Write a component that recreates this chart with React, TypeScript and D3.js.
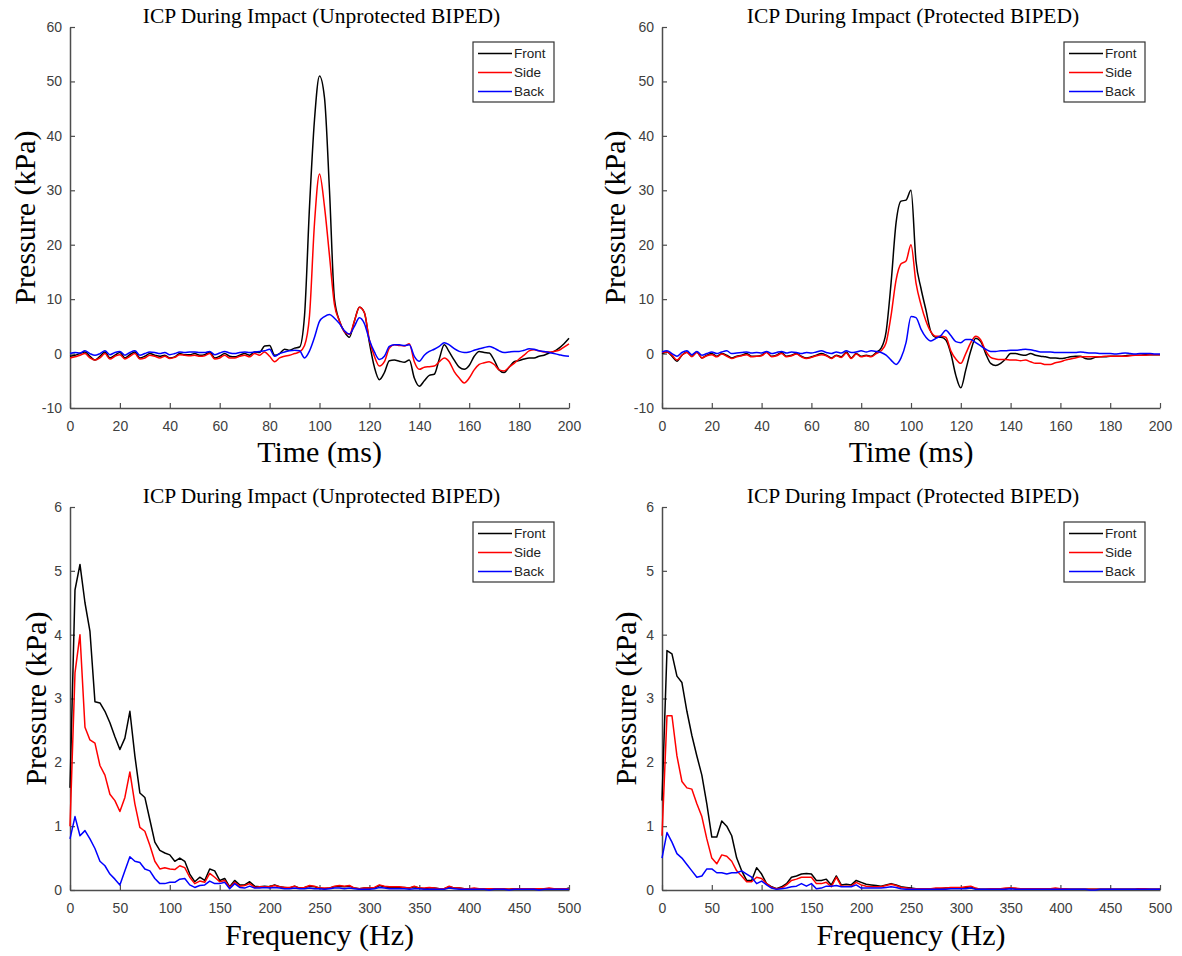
import React, { useRef, useEffect } from 'react';
import * as d3 from 'd3';

// sample grids
const timeMs = d3.range(0, 201, 2);
const freqHz = d3.range(0, 501, 5);

const seriesNames = ['Front', 'Side', 'Back'];
const seriesColors = ['#000000', '#ff0000', '#0000ff'];

const timeTicks = [0, 20, 40, 60, 80, 100, 120, 140, 160, 180, 200];
const timeYTicks = [-10, 0, 10, 20, 30, 40, 50, 60];
const freqTicks = [0, 50, 100, 150, 200, 250, 300, 350, 400, 450, 500];
const freqYTicks = [0, 1, 2, 3, 4, 5, 6];

// ICP vs time, unprotected (kPa, every 2 ms)
const unprotFront = [
  -0.5, -0.3, 0, 0.3, -0.5, -1.2, -0.5, 0.3, -0.8, -0.3,
  0.2, -0.8, -0.2, 0.3, -0.8, -0.5, 0, -0.3, -0.5, -0.3,
  -0.8, -0.6, 0, -0.2, -0.2, 0, -0.3, -0.2, 0.3, -0.8,
  -0.5, 0, -0.5, -0.6, -0.3, 0, -0.3, 0.3, 0.2, 1.4,
  1.5, -0.3, 0, 0.8, 0.6, 1.0, 1.2, 7, 27, 43,
  51, 47, 30, 10, 6, 4, 3, 6, 8.5, 7.5,
  2, -2.5, -4.8, -3.5, -1.3, -1.2, -1.4, -1.6, -1.2, -4.5,
  -6, -5, -4, -3.8, -1, 1.6, 0.3, -1.2, -2.5, -2.9,
  -2.2, -0.5, 0.4, 0.2, 0.1, -1.2, -3, -3.5, -2.5, -1.5,
  -1.3, -1, -0.8, -0.8, -0.5, -0.3, 0.1, 0.4, 1, 1.8,
  2.8,
];
const unprotSide = [
  -0.8, -0.6, -0.3, 0, -0.8, -1.2, -0.8, 0, -1, -0.5,
  -0.2, -1, -0.5, 0, -1, -0.8, -0.3, -0.5, -0.8, -0.5,
  -0.9, -0.7, -0.2, -0.3, -0.4, -0.3, -0.5, -0.4, 0, -1,
  -0.8, -0.3, -0.8, -0.8, -0.5, -0.3, -0.6, 0, -0.3, 0.3,
  -0.5, -1.5, -0.8, -0.5, -0.3, 0, 0.3, 1.5, 7, 24,
  33, 27, 18, 9, 6, 4, 3.5, 6, 8.5, 7.5,
  2.5, -0.5, -2.3, -1.5, 1, 1.6, 1.5, 1.4, 1.8, -1.5,
  -2.9, -2.5, -2.4, -2.3, -1.5, -0.8, -1.5, -3.3, -4.5, -5.4,
  -4.5, -3, -2, -1.7, -1.5, -2, -3, -3.2, -2.5, -1.8,
  -1, -0.3, 0.5, 0.7, 0.5, 0.3, 0.3, 0.4, 0.6, 1.2,
  1.8,
];
const unprotBack = [
  0, 0.2, 0.1, 0.5, 0, -0.3, 0, 0.5, -0.2, 0.2,
  0.4, -0.3, 0.2, 0.5, -0.3, 0, 0.3, 0.2, 0, 0.2,
  -0.2, 0, 0.3, 0.2, 0.3, 0.3, 0.2, 0.2, 0.4, -0.2,
  0.1, 0.4, 0.1, 0, 0.2, 0.3, 0.2, 0.3, 0.4, 0.5,
  0.8, -0.5, 0, 0.3, 0.5, 0.6, 0.5, -0.8, 0.5, 3,
  5.9, 6.8, 7.2, 6.5, 5.5, 4.2, 3.6, 5, 6.6, 5.5,
  2.5, 0.3, -1.1, -0.5, 1.3, 1.6, 1.6, 1.5, 1.6, -0.5,
  -1.4, -0.3, 0.4, 0.8, 1.3, 2, 1.6, 0.9, 0.4, 0.2,
  0.3, 0.6, 0.9, 1.1, 1.3, 1, 0.5, 0.2, 0.3, 0.4,
  0.4, 0.6, 0.9, 0.8, 0.5, 0.4, 0.2, 0, -0.2, -0.4,
  -0.5,
];

// ICP vs time, protected
const protFront = [
  0, 0.3, -0.5, -1.4, -0.3, 0.3, -0.5, 0.3, -0.8, -0.3,
  0, -0.5, 0, -0.3, -0.8, -0.5, -0.3, 0, -0.5, -0.5,
  -0.3, 0.3, -0.5, -0.3, 0.2, -0.5, -0.3, 0, -0.5, -0.8,
  -0.6, -0.3, 0, -0.3, -0.8, -0.3, -0.6, 0.3, -0.8, 0,
  -0.5, -0.3, -0.5, 0.2, 1, 4, 13, 24, 28, 28.2,
  30, 17, 12, 8, 4, 3, 3, 2.5, 0, -4,
  -6.3, -3, 0.5, 2.8, 2.2, 0, -1.8, -2.2, -1.8, -1,
  0, 0, -0.2, -0.3, 0, -0.3, -0.5, -0.6, -0.8, -0.8,
  -0.9, -0.8, -0.6, -0.5, -0.5, -0.9, -1, -0.7, -0.6, -0.6,
  -0.5, -0.5, -0.5, -0.4, -0.3, -0.3, -0.3, -0.2, -0.2, -0.2,
  -0.2,
];
const protSide = [
  0.2, 0.3, -0.3, -1.2, -0.3, 0.2, -0.6, 0.2, -0.8, -0.4,
  -0.2, -0.6, -0.1, -0.5, -0.9, -0.6, -0.4, -0.2, -0.6, -0.5,
  -0.4, 0.2, -0.6, -0.4, 0, -0.6, -0.4, -0.1, -0.6, -0.9,
  -0.7, -0.4, -0.2, -0.4, -0.9, -0.4, -0.7, 0.1, -0.9, -0.1,
  -0.6, -0.4, -0.6, 0, 0.5, 2, 7, 13.5, 16.5, 17,
  20, 13, 9, 6, 4, 3.2, 3.2, 3, 0.5, -1,
  -1.8, 0, 2, 3.2, 2.5, 0.5, -0.7, -1, -1.1, -1.1,
  -1.2, -1.2, -1.3, -1.2, -1.5, -1.8, -1.8, -2, -2, -1.7,
  -1.5, -1.2, -1, -0.8, -0.6, -0.6, -0.6, -0.6, -0.6, -0.5,
  -0.5, -0.5, -0.5, -0.5, -0.4, -0.3, -0.3, -0.3, -0.2, -0.2,
  -0.2,
];
const protBack = [
  0.3, 0.5, 0, -0.5, 0.2, 0.5, -0.2, 0.4, -0.3, 0,
  0.3, 0, 0.3, 0.5, 0, 0.1, 0.2, 0.3, 0.1, 0.2,
  0.1, 0.4, 0, 0.2, 0.4, 0.1, 0.3, 0.2, 0, 0.2,
  0.1, 0.3, 0.5, 0.2, 0, 0.3, 0.1, 0.5, 0.2, 0.3,
  0.5, 0.3, 0.5, 0.4, 0.2, -0.3, -1.2, -2, -0.8, 2,
  6.8, 6.6, 4.5, 3, 2.3, 2.8, 3.3, 4.3, 3.3, 2.2,
  2, 2.6, 2.6, 2, 1.4, 0.8, 0.4, 0.4, 0.5, 0.5,
  0.6, 0.6, 0.7, 0.8, 0.7, 0.5, 0.3, 0.3, 0.3, 0.2,
  0.2, 0.2, 0.2, 0.2, 0.3, 0.2, 0.1, 0.1, 0, 0,
  0, -0.1, 0, 0.1, 0, -0.1, 0, 0, 0, -0.1,
  -0.1,
];

// spectrum, unprotected (kPa, every 5 Hz)
const unprotFreqFront = [
  1.6, 4.7, 5.1, 4.5, 4.05, 2.95, 2.93, 2.8, 2.62, 2.4,
  2.2, 2.38, 2.8, 2.1, 1.52, 1.45, 1.1, 0.75, 0.62, 0.58,
  0.55, 0.45, 0.5, 0.45, 0.25, 0.13, 0.2, 0.15, 0.33, 0.3,
  0.15, 0.18, 0.05, 0.15, 0.08, 0.08, 0.13, 0.06, 0.05, 0.06,
  0.05, 0.08, 0.05, 0.04, 0.03, 0.06, 0.03, 0.04, 0.06, 0.05,
  0.03, 0.02, 0.03, 0.05, 0.06, 0.05, 0.06, 0.03, 0.02, 0.03,
  0.03, 0.03, 0.07, 0.05, 0.04, 0.04, 0.04, 0.04, 0.03, 0.05,
  0.03, 0.02, 0.03, 0.03, 0.02, 0.02, 0.05, 0.03, 0.03, 0.02,
  0.02, 0.02, 0.02, 0.01, 0.01, 0.02, 0.02, 0.01, 0.01, 0.02,
  0.01, 0.01, 0.02, 0.01, 0.01, 0.02, 0.01, 0.01, 0.01, 0.01,
  0.03,
];
const unprotFreqSide = [
  1.0, 3.4, 4.0, 2.55, 2.35, 2.3, 1.95, 1.8, 1.5, 1.4,
  1.23, 1.45, 1.85, 1.35, 0.98, 0.92, 0.7, 0.45, 0.33, 0.35,
  0.33, 0.32, 0.38, 0.35, 0.2, 0.1, 0.14, 0.12, 0.26, 0.2,
  0.13, 0.15, 0.04, 0.12, 0.06, 0.07, 0.1, 0.04, 0.05, 0.05,
  0.05, 0.07, 0.05, 0.04, 0.04, 0.06, 0.03, 0.04, 0.07, 0.06,
  0.03, 0.03, 0.03, 0.06, 0.07, 0.06, 0.07, 0.03, 0.02, 0.03,
  0.03, 0.04, 0.08, 0.06, 0.05, 0.05, 0.05, 0.04, 0.03, 0.06,
  0.03, 0.03, 0.04, 0.03, 0.02, 0.02, 0.06, 0.03, 0.03, 0.02,
  0.02, 0.03, 0.02, 0.02, 0.02, 0.02, 0.02, 0.02, 0.01, 0.02,
  0.02, 0.02, 0.02, 0.02, 0.02, 0.02, 0.03, 0.02, 0.02, 0.02,
  0.02,
];
const unprotFreqBack = [
  0.8, 1.15, 0.85, 0.93, 0.8, 0.65, 0.45, 0.38, 0.25, 0.17,
  0.08, 0.3, 0.52, 0.45, 0.43, 0.33, 0.3, 0.18, 0.1, 0.1,
  0.12, 0.12, 0.17, 0.18, 0.08, 0.04, 0.07, 0.08, 0.14, 0.1,
  0.1, 0.12, 0.02, 0.1, 0.04, 0.03, 0.06, 0.03, 0.03, 0.04,
  0.03, 0.04, 0.03, 0.02, 0.02, 0.03, 0.02, 0.02, 0.03, 0.02,
  0.02, 0.01, 0.02, 0.03, 0.03, 0.02, 0.03, 0.02, 0.01, 0.01,
  0.01, 0.02, 0.04, 0.03, 0.02, 0.02, 0.02, 0.02, 0.01, 0.02,
  0.02, 0.01, 0.01, 0.01, 0.01, 0.01, 0.03, 0.02, 0.01, 0.01,
  0.01, 0.01, 0.01, 0.01, 0, 0.01, 0.01, 0.01, 0, 0.01,
  0.01, 0.01, 0.01, 0.01, 0, 0.01, 0.01, 0.01, 0.01, 0.01,
  0.01,
];

// spectrum, protected
const protFreqFront = [
  1.4, 3.75, 3.7, 3.35, 3.25, 2.8, 2.42, 2.1, 1.8, 1.35,
  0.83, 0.83, 1.08, 1.0, 0.85, 0.5, 0.3, 0.15, 0.15, 0.35,
  0.25, 0.1, 0.05, 0.02, 0.05, 0.1, 0.2, 0.22, 0.25, 0.26,
  0.25, 0.15, 0.15, 0.17, 0.08, 0.22, 0.08, 0.09, 0.08, 0.15,
  0.12, 0.09, 0.08, 0.07, 0.06, 0.08, 0.1, 0.08, 0.05, 0.04,
  0.03, 0.02, 0.02, 0.02, 0.02, 0.02, 0.02, 0.03, 0.03, 0.03,
  0.03, 0.04, 0.05, 0.02, 0.01, 0.01, 0.01, 0.02, 0.02, 0.02,
  0.03, 0.02, 0.02, 0.01, 0.01, 0.02, 0.02, 0.01, 0.01, 0.02,
  0.02, 0.01, 0.01, 0.01, 0.01, 0.01, 0.01, 0.01, 0.01, 0.01,
  0.01, 0.01, 0.01, 0.01, 0.01, 0.01, 0.02, 0.01, 0.01, 0.01,
  0.01,
];
const protFreqSide = [
  0.85, 2.73, 2.73, 2.1, 1.7, 1.6, 1.58, 1.35, 1.15, 0.8,
  0.5, 0.41, 0.55, 0.53, 0.45, 0.3, 0.22, 0.13, 0.13, 0.2,
  0.18, 0.1, 0.04, 0.02, 0.03, 0.08, 0.15, 0.17, 0.2, 0.2,
  0.2, 0.1, 0.1, 0.12, 0.05, 0.2, 0.06, 0.06, 0.06, 0.12,
  0.08, 0.06, 0.05, 0.05, 0.05, 0.07, 0.09, 0.07, 0.04, 0.03,
  0.02, 0.02, 0.02, 0.02, 0.02, 0.03, 0.03, 0.03, 0.04, 0.04,
  0.04, 0.05, 0.06, 0.03, 0.01, 0.01, 0.02, 0.02, 0.02, 0.03,
  0.03, 0.03, 0.02, 0.02, 0.02, 0.02, 0.02, 0.02, 0.02, 0.03,
  0.02, 0.02, 0.01, 0.01, 0.01, 0.01, 0.01, 0.01, 0.01, 0.01,
  0.01, 0.01, 0.01, 0.01, 0.01, 0.01, 0.02, 0.02, 0.01, 0.01,
  0.01,
];
const protFreqBack = [
  0.5, 0.9, 0.75, 0.57, 0.5, 0.4, 0.3, 0.2, 0.22, 0.33,
  0.33, 0.27, 0.27, 0.25, 0.27, 0.27, 0.3, 0.25, 0.2, 0.1,
  0.14, 0.08, 0.03, 0.01, 0.02, 0.03, 0.05, 0.06, 0.1, 0.06,
  0.1, 0.02, 0.03, 0.06, 0.06, 0.07, 0.05, 0.05, 0.05, 0.08,
  0.03, 0.03, 0.03, 0.03, 0.03, 0.04, 0.05, 0.04, 0.02, 0.01,
  0.01, 0.01, 0.01, 0.01, 0.01, 0.01, 0.01, 0.01, 0.02, 0.02,
  0.02, 0.02, 0.03, 0.01, 0.01, 0.01, 0.01, 0.01, 0.01, 0.01,
  0.02, 0.01, 0.01, 0.01, 0.01, 0.01, 0.01, 0.01, 0.01, 0.01,
  0.01, 0.01, 0.01, 0.01, 0.01, 0.01, 0, 0, 0.01, 0.01,
  0.01, 0.01, 0.01, 0.01, 0.01, 0.01, 0.01, 0.01, 0.01, 0.01,
  0.01,
];

const SANS = "'Liberation Sans', Arial, sans-serif";
const SERIF = "'Liberation Serif', 'Times New Roman', serif";
const AXIS = '#4d4d4d';
const TICK_TEXT = '#404040';

function drawPanel(svg, p) {
  const { left, right, top, bottom } = p.box;
  const x = d3.scaleLinear().domain(p.xDomain).range([left, right]);
  const y = d3.scaleLinear().domain(p.yDomain).range([bottom, top]);
  const g = svg.append('g');

  const gx = g
    .append('g')
    .attr('transform', `translate(0,${bottom})`)
    .call(
      d3.axisBottom(x).tickValues(p.xTicks).tickSizeInner(-5).tickSizeOuter(0).tickPadding(13).tickFormat((d) => String(d))
    );
  const gy = g
    .append('g')
    .attr('transform', `translate(${left},0)`)
    .call(
      d3.axisLeft(y).tickValues(p.yTicks).tickSizeInner(-5).tickSizeOuter(0).tickPadding(8).tickFormat((d) => String(d))
    );
  [gx, gy].forEach((a) => {
    a.attr('font-family', SANS).attr('font-size', 14);
    a.select('.domain').attr('stroke', AXIS).attr('stroke-width', 1.5);
    a.selectAll('.tick line').attr('stroke', AXIS).attr('stroke-width', 1.2);
    a.selectAll('.tick text').attr('fill', TICK_TEXT);
  });

  const line = d3
    .line()
    .x((d, i) => x(p.xs[i]))
    .y((d) => y(d))
    .curve(p.curve);

  p.series.forEach((s, i) => {
    g.append('path')
      .datum(s)
      .attr('fill', 'none')
      .attr('stroke', seriesColors[i])
      .attr('stroke-width', 1.5)
      .attr('stroke-linejoin', 'round')
      .attr('d', line);
  });

  // title
  g.append('text')
    .attr('x', (left + right) / 2 + 2)
    .attr('y', top - 4)
    .attr('text-anchor', 'middle')
    .attr('font-family', SERIF)
    .attr('font-size', 21.5)
    .attr('fill', '#000')
    .text(p.title);

  // axis labels
  g.append('text')
    .attr('x', (left + right) / 2)
    .attr('y', p.xLabelY)
    .attr('text-anchor', 'middle')
    .attr('font-family', SERIF)
    .attr('font-size', 30)
    .attr('fill', '#000')
    .text(p.xLabel);
  g.append('text')
    .attr('transform', `translate(${p.yLabelX},${(top + bottom) / 2}) rotate(-90)`)
    .attr('text-anchor', 'middle')
    .attr('font-family', SERIF)
    .attr('font-size', 30)
    .attr('fill', '#000')
    .text('Pressure (kPa)');

  // legend
  const lw = 81;
  const lx = right - 15 - lw;
  const ly = top + 15;
  const leg = g.append('g');
  leg
    .append('rect')
    .attr('x', lx)
    .attr('y', ly)
    .attr('width', lw)
    .attr('height', 60)
    .attr('fill', '#fff')
    .attr('stroke', '#333')
    .attr('stroke-width', 1.2);
  seriesNames.forEach((name, i) => {
    const ry = ly + 11.5 + i * 19;
    leg
      .append('line')
      .attr('x1', lx + 5)
      .attr('x2', lx + 39)
      .attr('y1', ry)
      .attr('y2', ry)
      .attr('stroke', seriesColors[i])
      .attr('stroke-width', 1.5);
    leg
      .append('text')
      .attr('x', lx + 41)
      .attr('y', ry)
      .attr('dy', '0.35em')
      .attr('font-family', SANS)
      .attr('font-size', 13.5)
      .attr('fill', '#222')
      .text(name);
  });
}

export default function App() {
  const ref = useRef(null);

  useEffect(() => {
    const svg = d3.select(ref.current);
    svg.selectAll('*').remove();

    const panels = [
      {
        box: { left: 70, right: 569, top: 27, bottom: 408 },
        xDomain: [0, 200], yDomain: [-10, 60], xTicks: timeTicks, yTicks: timeYTicks,
        xs: timeMs, series: [unprotFront, unprotSide, unprotBack], curve: d3.curveMonotoneX,
        title: 'ICP During Impact (Unprotected BIPED)', xLabel: 'Time (ms)', xLabelY: 462, yLabelX: 35,
      },
      {
        box: { left: 662, right: 1160, top: 27, bottom: 408 },
        xDomain: [0, 200], yDomain: [-10, 60], xTicks: timeTicks, yTicks: timeYTicks,
        xs: timeMs, series: [protFront, protSide, protBack], curve: d3.curveMonotoneX,
        title: 'ICP During Impact (Protected BIPED)', xLabel: 'Time (ms)', xLabelY: 462, yLabelX: 625,
      },
      {
        box: { left: 70, right: 569, top: 507, bottom: 890 },
        xDomain: [0, 500], yDomain: [0, 6], xTicks: freqTicks, yTicks: freqYTicks,
        xs: freqHz, series: [unprotFreqFront, unprotFreqSide, unprotFreqBack], curve: d3.curveLinear,
        title: 'ICP During Impact (Unprotected BIPED)', xLabel: 'Frequency (Hz)', xLabelY: 945, yLabelX: 46,
      },
      {
        box: { left: 662, right: 1160, top: 507, bottom: 890 },
        xDomain: [0, 500], yDomain: [0, 6], xTicks: freqTicks, yTicks: freqYTicks,
        xs: freqHz, series: [protFreqFront, protFreqSide, protFreqBack], curve: d3.curveLinear,
        title: 'ICP During Impact (Protected BIPED)', xLabel: 'Frequency (Hz)', xLabelY: 945, yLabelX: 636,
      },
    ];
    panels.forEach((p) => drawPanel(svg, p));
  }, []);

  return (
    <svg
      ref={ref}
      width={1182}
      height={956}
      style={{ position: 'absolute', left: 0, top: 0, background: '#fff' }}
    ></svg>
  );
}
